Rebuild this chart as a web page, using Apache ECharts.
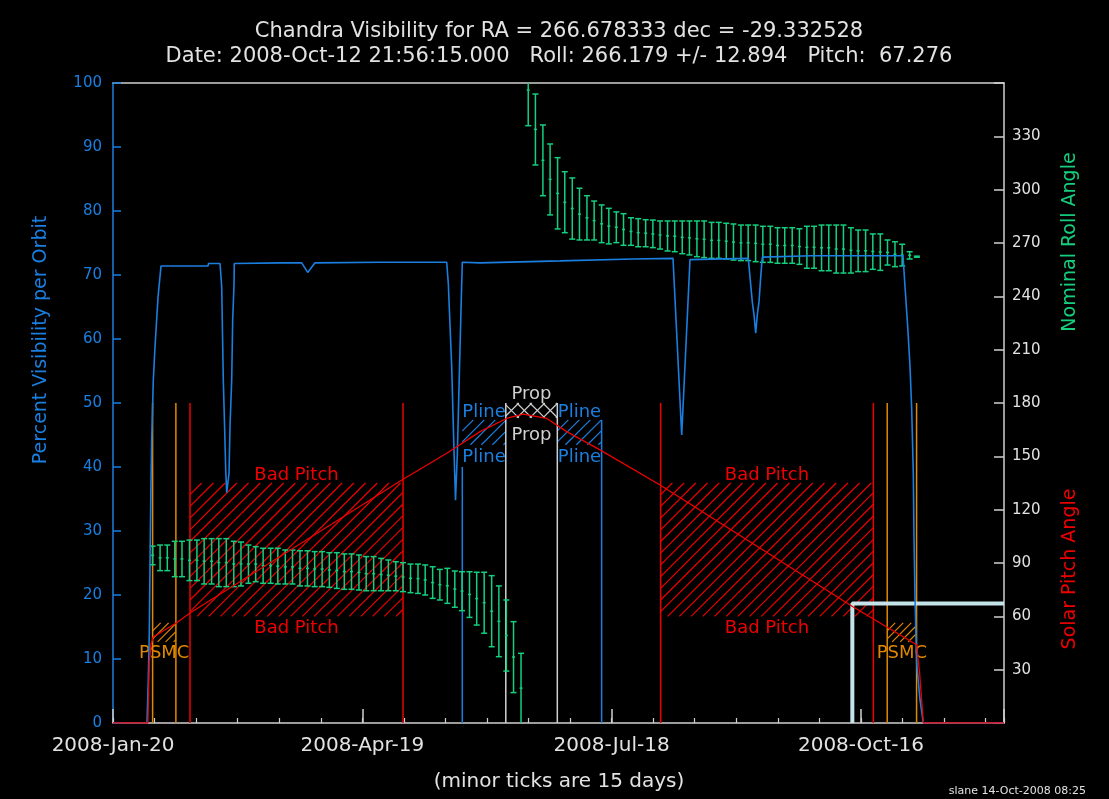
<!DOCTYPE html>
<html><head><meta charset="utf-8">
<script src="https://cdn.jsdelivr.net/npm/echarts@6/dist/echarts.min.js"></script>
<style>html,body{margin:0;padding:0;background:#000;}#c{width:1109px;height:799px;}</style>
</head><body><div id="c"></div>
<script>
// ---------- texts ----------
const titleText = 'Chandra Visibility for RA = 266.678333 dec = -29.332528';
const subtitleText = 'Date: 2008-Oct-12 21:56:15.000   Roll: 266.179 +/- 12.894   Pitch:  67.276';
const leftAxisName = 'Percent Visibility per Orbit';
const rollAxisName = 'Nominal Roll Angle';
const pitchAxisName = 'Solar Pitch Angle';
const minorNote = '(minor ticks are 15 days)';
const footerText = 'slane 14-Oct-2008 08:25';
const xTickLabels = ['2008-Jan-20', '2008-Apr-19', '2008-Jul-18', '2008-Oct-16'];
const regionLabels = ['Bad Pitch', 'Pline', 'Prop', 'PSMC'];

// x values are days since 2008-Jan-20 00:00
const xMaxDay = 321.66;

// ---------- percent visibility per orbit ----------
const visDays = [0, 12.27, 12.74, 13.10, 13.36, 13.61, 13.97, 14.55, 15.16, 16.25, 17.33, 34.30, 34.48,
  38.63, 39.24, 39.82, 40.25, 40.69, 41.05, 41.62, 41.88, 42.24, 42.85, 43.21, 43.68, 43.79,
  60.90, 68.12, 70.29, 72.92, 96.39,
  120.47, 121.05, 122.27, 123.10, 123.65, 124.30, 125.02, 125.63, 126.10,
  132.49, 161.37, 187.73, 202.17, 205.31, 208.30,
  229.35, 229.96, 230.79, 231.41, 232.02, 232.60, 233.21, 233.83, 234.40,
  252.24, 285.20, 285.92, 286.90, 287.73, 288.34, 288.92, 289.17, 289.53, 290.14, 291.34, 292.53, 321.66];
const visPct = [0, 0, 6.7, 14, 24.4, 34.4, 44.2, 53.6, 58.7, 66.5, 71.4, 71.4, 71.8,
  71.8, 68.2, 53.6, 46.9, 39.5, 36, 36, 39, 46.3, 53.6, 63, 68.4, 71.8,
  71.9, 71.9, 70.4, 71.9, 72.0,
  72.0, 68.7, 55.7, 42.6, 34.8, 42, 54.3, 64.5, 72.0,
  71.9, 72.2, 72.5, 72.6, 45, 72.4,
  72.6, 69.7, 65.8, 63.8, 60.9, 63.8, 65.8, 69.7, 72.8,
  73.0, 73.0, 68.2, 61.9, 55.7, 49, 39, 29, 19.7, 9.3, 3.6, 0, 0];

// ---------- solar pitch angle (deg) ----------
const pitchDays = [0, 12.6, 13.1, 13.7, 14.5, 23.0, 27.8, 104.3, 120.5, 132.5, 142.1, 148.1, 156.6, 163.8, 175.8, 197.5, 267.1, 290.1, 291.2, 292.4, 292.6, 321.66];
const pitchDeg  = [0, 0, 33.7, 44, 48.4, 56.4, 61.9, 136.7, 151.7, 163.9, 171.3, 173.8, 171.3, 163.9, 153.6, 133.9, 65.4, 44, 28, 3, 0, 0];

// ---------- nominal roll angle (deg), low / high / nominal ----------
const rollDays1 = [14.3, 17.0, 19.6, 22.3, 24.9, 27.6, 30.3, 32.9, 35.6, 38.2, 40.9, 43.6, 46.2, 48.9, 51.5, 54.2, 56.9, 59.5, 62.2, 64.8,
  67.5, 70.2, 72.8, 75.5, 78.1, 80.8, 83.5, 86.1, 88.8, 91.4, 94.1, 96.8, 99.4, 102.1, 104.7, 107.4, 110.1, 112.7, 115.4, 118.0,
  120.7, 123.4, 126.0, 128.7, 131.3, 134.0, 136.7, 139.3, 142.0, 144.6, 147.3];
const rollHi1 = [99.5, 100.1, 100.1, 102.2, 102.2, 102.9, 102.9, 103.7, 103.7, 103.7, 103.7, 102.2, 101.8, 100.1, 99.2, 98.3, 98.3, 98.3, 97.3, 97.3,
  96.9, 96.9, 96.4, 96.4, 95.8, 95.8, 95.1, 95.1, 94.5, 93.6, 93.6, 92.6, 91.7, 90.7, 90.2, 89.4, 89.4, 88.9, 87.9, 86.4,
  87.0, 85.5, 85.1, 85.1, 84.8, 84.8, 82.9, 77.1, 69.2, 57.0, 39.2];
const rollLo1 = [89.0, 85.7, 85.7, 82.3, 82.3, 80.1, 80.1, 78.2, 78.2, 76.7, 76.7, 76.7, 77.1, 78.6, 79.5, 78.6, 78.6, 78.2, 78.2, 78.2,
  77.1, 77.1, 76.7, 76.7, 76.3, 75.7, 75.2, 75.2, 74.8, 74.4, 74.4, 74.4, 74.4, 74.4, 73.9, 73.3, 72.9, 72.0, 70.1, 69.2,
  67.3, 65.1, 63.2, 59.4, 55.1, 50.5, 42.9, 37.3, 29.2, 17.1, 0];
const rollMid1 = [94.3, 92.9, 92.9, 92.3, 92.3, 91.5, 91.5, 91.0, 91.0, 90.2, 90.2, 89.5, 89.5, 89.4, 89.4, 88.5, 88.5, 88.3, 87.8, 87.8,
  87.0, 87.0, 86.6, 86.6, 86.1, 85.8, 85.2, 85.2, 84.7, 84.0, 84.0, 83.5, 83.1, 82.6, 82.1, 81.4, 81.2, 80.5, 79.0, 77.8,
  77.2, 75.3, 74.2, 72.3, 70.0, 67.7, 62.9, 57.2, 49.2, 37.1, 19.6];

const rollDays2 = [149.9, 152.5, 155.2, 157.8, 160.5, 163.1, 165.8, 168.4, 171.1, 173.7, 176.4, 179.0, 181.7, 184.3, 187.0, 189.6, 192.3, 194.9, 197.5, 200.2,
  202.8, 205.5, 208.1, 210.8, 213.4, 216.1, 218.7, 221.4, 224.0, 226.7, 229.3, 232.0, 234.6, 237.3, 239.9, 242.5, 245.2, 247.8, 250.5, 253.1,
  255.8, 258.4, 261.1, 263.7, 266.4, 269.0, 271.7, 274.3, 277.0, 279.6, 282.3, 284.9, 287.6, 290.2];
const rollHi2 = [376, 353.8, 336.4, 325.7, 318.0, 310.1, 306.6, 300.8, 296.6, 293.6, 291.4, 289.5, 287.5, 286.5, 284.2, 283.7, 283.1, 282.9, 282.4, 282.4,
  282.4, 282.4, 282.4, 282.4, 282.4, 281.6, 281.6, 281.1, 280.7, 280.1, 280.1, 280.1, 279.4, 279.4, 278.6, 278.6, 278.6, 278.0, 279.4, 279.4,
  280.1, 280.1, 280.1, 280.1, 278.6, 277.3, 277.3, 275.1, 275.1, 271.7, 270.7, 269.3, 265.1, 262.6];
const rollLo2 = [336.0, 313.9, 296.6, 285.8, 277.9, 275.8, 272.2, 271.7, 271.7, 271.7, 270.2, 269.5, 270.2, 268.7, 268.7, 267.9, 267.9, 267.4, 266.6, 265.5,
  265.1, 264.0, 263.3, 262.3, 261.8, 261.4, 261.4, 261.0, 260.4, 260.1, 260.1, 259.5, 259.1, 259.1, 258.6, 258.6, 258.6, 258.0, 255.8, 255.8,
  254.4, 254.4, 253.1, 253.1, 253.1, 253.9, 253.9, 255.2, 254.6, 257.6, 256.7, 257.1, 261.0, 262.0];
const rollMid2 = [356, 333.9, 316.5, 305.8, 297.9, 292.9, 289.4, 286.2, 284.2, 282.6, 280.8, 279.5, 278.9, 277.6, 276.5, 275.8, 275.5, 275.1, 274.5, 274.0,
  273.8, 273.2, 272.9, 272.4, 272.1, 271.5, 271.5, 271.0, 270.5, 270.1, 270.1, 269.8, 269.3, 269.3, 268.6, 268.6, 268.6, 268.0, 267.6, 267.6,
  267.3, 267.3, 266.6, 266.6, 265.9, 265.6, 265.6, 265.2, 264.9, 264.7, 263.7, 263.2, 263.1, 262.3];

// ---------- constraint windows (days) and their pitch bands (deg) ----------
const badPitchSpans = [[27.8, 104.7], [197.7, 274.5]];
const badPitchBand = [60, 135];
const plineSpans = [[126.1, 141.8], [160.4, 176.4]];
const plineBand = [156.5, 170.5];
const propSpans = [[141.8, 160.4]];
const propBand = [171.6, 180];
const psmcSpans = [[14.3, 22.7], [279.5, 290.1]];
const psmcBand = [45.6, 56.3];

// vertical boundary markers: day, top (deg)
const orangeLineDays = [14.3, 22.7, 279.5, 290.1];
const redLineDays = [27.8, 104.7, 197.7, 274.5];
const whiteLineDays = [141.8, 160.4];
const blueLineDays = [126.1, 176.4];
const blueLineTops = [144, 170.5];
const markerTop = 180;

// current date / pitch marker
const nowDay = 266.91;
const nowPitch = 67.276;

// ---------- styles ----------
const FONT = '"DejaVu Sans", sans-serif';
const BLUE = '#1a7fe0', GREEN = '#14d07e', RED = '#ee0000', ORANGE = '#e08800', GRAY = '#d0d0d0', CYAN = '#c4e4ea', TXT = '#e2e2e2';
const markerColors = [ORANGE, RED, GRAY, BLUE];
const regionColors = [RED, BLUE, GRAY, ORANGE];
const regionSpacing = [11.7, 11, 13, 8];
const regionOffTop = [-8, -8, -9, null];
const regionOffBot = [12, 13, 17, 11];

// ---------- build series data ----------
const visData = visDays.map((d, i) => [d, visPct[i]]);
const pitchData = pitchDays.map((d, i) => [d, pitchDeg[i]]);
const rollData = rollDays1.map((d, i) => [d, rollLo1[i], rollHi1[i], rollMid1[i]])
  .concat(rollDays2.map((d, i) => [d, rollLo2[i], rollHi2[i], rollMid2[i]]));
const markerData = [];
orangeLineDays.forEach(d => markerData.push([d, markerTop, 0]));
redLineDays.forEach(d => markerData.push([d, markerTop, 1]));
whiteLineDays.forEach(d => markerData.push([d, markerTop, 2]));
blueLineDays.forEach((d, i) => markerData.push([d, blueLineTops[i], 3]));
const regionData = [];
badPitchSpans.forEach(s => regionData.push([s[0], s[1], badPitchBand[0], badPitchBand[1], 0]));
plineSpans.forEach(s => regionData.push([s[0], s[1], plineBand[0], plineBand[1], 1]));
propSpans.forEach(s => regionData.push([s[0], s[1], propBand[0], propBand[1], 2]));
psmcSpans.forEach(s => regionData.push([s[0], s[1], psmcBand[0], psmcBand[1], 3]));

function hatch(x0, y0, x1, y1, spacing, dir, stroke) {
  const h = y1 - y0, out = [];
  for (let c = x0 - h; c <= x1; c += spacing) {
    const tA = Math.max(0, (x0 - c) / h), tB = Math.min(1, (x1 - c) / h);
    if (tB <= tA) continue;
    const ax = c + tA * h, bx = c + tB * h;
    let ay, by;
    if (dir > 0) { ay = y1 - tA * h; by = y1 - tB * h; } else { ay = y0 + tA * h; by = y0 + tB * h; }
    out.push({ type: 'line', shape: { x1: ax, y1: ay, x2: bx, y2: by }, style: { stroke: stroke, lineWidth: 1.2 } });
  }
  return out;
}
function label(x, y, text, color) {
  return { type: 'text', x: x, y: y, style: { text: text, fill: color, font: '18px ' + FONT,
    align: 'center', verticalAlign: 'middle', textAlign: 'center', textVerticalAlign: 'middle' } };
}

const chart = echarts.init(document.getElementById('c'), null, { renderer: 'canvas' });
const gtext = (x, y, text, size, color, extra) => Object.assign({
  type: 'text', x: x, y: y, z: 100,
  style: { text: text, fill: color, font: size + 'px ' + FONT, align: 'center', verticalAlign: 'middle',
    textAlign: 'center', textVerticalAlign: 'middle' }
}, extra || {});

const option = {
  backgroundColor: '#000',
  animation: false,
  grid: { left: 113, right: 105, top: 83, bottom: 76, containLabel: false, outerBoundsMode: 'none' },
  xAxis: [
    { type: 'value', position: 'bottom', min: 0, max: xMaxDay, interval: 90,
      axisLine: { show: true, onZero: false, lineStyle: { color: GRAY, width: 1.5 } },
      axisTick: { show: true, inside: true, length: 14, lineStyle: { color: GRAY, width: 1.5 } },
      axisLabel: { color: TXT, fontSize: 20, fontFamily: FONT, margin: 13, showMinLabel: true, showMaxLabel: true,
        formatter: v => { const i = Math.round(v / 90); return (Math.abs(v - i * 90) < 1e-6 && i < xTickLabels.length) ? xTickLabels[i] : ''; } },
      splitLine: { show: false } },
    { type: 'value', position: 'bottom', min: 0, max: xMaxDay, interval: 15,
      axisLine: { show: false }, axisLabel: { show: false }, splitLine: { show: false },
      axisTick: { show: true, inside: true, length: 5, lineStyle: { color: GRAY, width: 1.2 } } },
    { type: 'value', position: 'top', min: 0, max: xMaxDay,
      axisLine: { show: true, onZero: false, lineStyle: { color: GRAY, width: 1.5 } },
      axisTick: { show: false }, axisLabel: { show: false }, splitLine: { show: false } }
  ],
  yAxis: [
    { type: 'value', position: 'left', min: 0, max: 100, interval: 10,
      axisLine: { show: true, onZero: false, lineStyle: { color: BLUE, width: 1.5 } },
      axisTick: { show: true, inside: true, length: 8, lineStyle: { color: BLUE, width: 1.5 } },
      axisLabel: { color: BLUE, fontSize: 15, fontFamily: FONT, margin: 11 },
      splitLine: { show: false } },
    { type: 'value', position: 'right', min: 0, max: 360, interval: 30,
      axisLine: { show: true, onZero: false, lineStyle: { color: GRAY, width: 1.5 } },
      axisTick: { show: true, inside: true, length: 10, lineStyle: { color: GRAY, width: 1.5 } },
      axisLabel: { color: TXT, fontSize: 15, fontFamily: FONT, margin: 8,
        formatter: v => (v <= 0 || v >= 360) ? '' : String(v) },
      splitLine: { show: false } }
  ],
  graphic: { elements: [
    gtext(559, 32, titleText, 21, TXT),
    gtext(559, 57, subtitleText, 21, TXT),
    gtext(41, 340, leftAxisName, 19, BLUE, { rotation: Math.PI / 2 }),
    gtext(1070, 242, rollAxisName, 19, GREEN, { rotation: Math.PI / 2 }),
    gtext(1070, 569, pitchAxisName, 19, RED, { rotation: Math.PI / 2 }),
    gtext(559, 782, minorNote, 20, TXT),
    { type: 'text', x: 1086, y: 791, z: 100, style: { text: footerText, fill: TXT, font: '11px ' + FONT,
      align: 'right', verticalAlign: 'middle', textAlign: 'right', textVerticalAlign: 'middle' } }
  ] },
  series: [
    { type: 'custom', name: 'regions', xAxisIndex: 0, yAxisIndex: 1, z: 1, clip: false,
      data: regionData,
      renderItem: (params, api) => {
        const k = api.value(4);
        const pA = api.coord([api.value(0), api.value(3)]);
        const pB = api.coord([api.value(1), api.value(2)]);
        const x0 = pA[0], y0 = pA[1], x1 = pB[0], y1 = pB[1];
        const col = regionColors[k];
        let kids = hatch(x0, y0, x1, y1, regionSpacing[k], 1, col);
        if (k === 2) kids = kids.concat(hatch(x0, y0, x1, y1, regionSpacing[k], -1, col));
        const cx = (x0 + x1) / 2;
        if (regionOffTop[k] !== null) kids.push(label(cx, y0 + regionOffTop[k], regionLabels[k], col));
        kids.push(label(cx, y1 + regionOffBot[k], regionLabels[k], col));
        return { type: 'group', children: kids };
      } },
    { type: 'custom', name: 'markers', xAxisIndex: 0, yAxisIndex: 1, z: 2,
      data: markerData,
      renderItem: (params, api) => {
        const p0 = api.coord([api.value(0), 0]);
        const p1 = api.coord([api.value(0), api.value(1)]);
        return { type: 'line', shape: { x1: p0[0], y1: p0[1], x2: p1[0], y2: p1[1] },
          style: { stroke: markerColors[api.value(2)], lineWidth: 1.5 } };
      } },
    { type: 'custom', name: 'roll', xAxisIndex: 0, yAxisIndex: 1, z: 3,
      data: rollData,
      renderItem: (params, api) => {
        const cs = params.coordSys;
        const d = api.value(0);
        const x = api.coord([d, 0])[0];
        let yL = api.coord([d, api.value(1)])[1];
        let yH = api.coord([d, api.value(2)])[1];
        const yM = api.coord([d, api.value(3)])[1];
        const top = cs.y, bot = cs.y + cs.height;
        const capH = yH >= top, capL = yL <= bot - 0.5;
        yH = Math.max(yH, top); yL = Math.min(yL, bot);
        const st = { stroke: GREEN, lineWidth: 1.5 };
        const kids = [{ type: 'line', shape: { x1: x, y1: yH, x2: x, y2: yL }, style: st }];
        if (capH) kids.push({ type: 'line', shape: { x1: x - 3, y1: yH, x2: x + 3, y2: yH }, style: st });
        if (capL) kids.push({ type: 'line', shape: { x1: x - 3, y1: yL, x2: x + 3, y2: yL }, style: st });
        kids.push({ type: 'line', shape: { x1: x - 1.5, y1: yM, x2: x + 1.5, y2: yM }, style: { stroke: GREEN, lineWidth: 1.5 } });
        return { type: 'group', children: kids };
      } },
    { type: 'line', name: 'now', xAxisIndex: 0, yAxisIndex: 1, z: 4,
      data: [[nowDay, 0], [nowDay, nowPitch], [xMaxDay, nowPitch]],
      symbol: 'none', showSymbol: false, clip: true, lineStyle: { color: CYAN, width: 4 } },
    { type: 'line', name: 'visibility', xAxisIndex: 0, yAxisIndex: 0, z: 5, data: visData,
      symbol: 'none', showSymbol: false, clip: true, lineStyle: { color: BLUE, width: 1.6 } },
    { type: 'line', name: 'pitch', xAxisIndex: 0, yAxisIndex: 1, z: 6, data: pitchData,
      symbol: 'none', showSymbol: false, clip: true, lineStyle: { color: RED, width: 1.3 } }
  ]
};
chart.setOption(option);
</script>
</body></html>
